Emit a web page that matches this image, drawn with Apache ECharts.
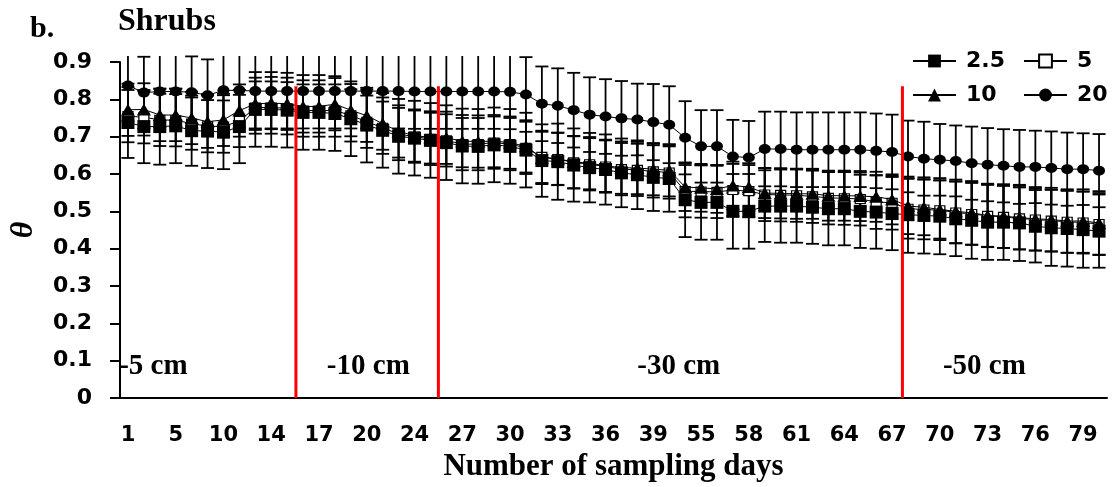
<!DOCTYPE html>
<html>
<head>
<meta charset="utf-8">
<script src="https://cdn.jsdelivr.net/npm/echarts@6/dist/echarts.min.js"></script>
<style>
html,body{margin:0;padding:0;background:#fff;}
#chart{width:1112px;height:487px;}
</style>
</head>
<body>
<div id="chart"></div>
<script>
// ---- data ----
const days = ['1','2','3','5','7','8','10','11','12','14','15','16','17','18','19','20','21','22','24','25','26','27','28','29','30','31','32','33','34','35','36','37','38','39','40','54','55','56','57','58','59','60','61','62','63','64','65','66','67','68','69','70','71','72','73','74','75','76','77','78','79','80'];

const theta25 = [0.738,0.727,0.727,0.729,0.716,0.715,0.712,0.727,0.773,0.773,0.771,0.765,0.765,0.762,0.748,0.731,0.717,0.701,0.696,0.690,0.684,0.675,0.674,0.678,0.674,0.664,0.636,0.633,0.624,0.617,0.612,0.603,0.598,0.591,0.588,0.531,0.524,0.524,0.500,0.500,0.514,0.514,0.514,0.511,0.507,0.507,0.500,0.498,0.494,0.491,0.489,0.487,0.480,0.476,0.471,0.471,0.469,0.460,0.456,0.454,0.451,0.447];
const theta5  = [0.755,0.752,0.745,0.744,0.735,0.728,0.727,0.742,0.778,0.778,0.776,0.770,0.770,0.770,0.757,0.740,0.724,0.707,0.700,0.694,0.690,0.680,0.680,0.684,0.680,0.670,0.646,0.640,0.631,0.626,0.620,0.613,0.611,0.607,0.604,0.554,0.553,0.552,0.557,0.554,0.545,0.544,0.543,0.540,0.536,0.535,0.533,0.525,0.523,0.507,0.505,0.503,0.497,0.493,0.488,0.485,0.481,0.478,0.475,0.472,0.470,0.466];
const theta10 = [0.772,0.773,0.758,0.758,0.750,0.740,0.745,0.770,0.788,0.790,0.788,0.781,0.781,0.787,0.771,0.756,0.735,0.714,0.703,0.698,0.697,0.688,0.687,0.688,0.684,0.674,0.643,0.641,0.632,0.629,0.622,0.617,0.616,0.613,0.610,0.565,0.563,0.560,0.569,0.565,0.549,0.548,0.547,0.547,0.542,0.542,0.541,0.539,0.532,0.514,0.511,0.505,0.500,0.496,0.489,0.487,0.483,0.480,0.478,0.474,0.474,0.469];
const theta20 = [0.837,0.818,0.821,0.821,0.819,0.811,0.824,0.824,0.822,0.822,0.822,0.822,0.822,0.822,0.822,0.822,0.822,0.822,0.821,0.821,0.821,0.821,0.821,0.821,0.820,0.813,0.788,0.783,0.771,0.759,0.754,0.749,0.746,0.739,0.732,0.697,0.674,0.674,0.647,0.644,0.667,0.667,0.665,0.665,0.665,0.665,0.665,0.662,0.659,0.647,0.641,0.638,0.635,0.629,0.625,0.622,0.619,0.619,0.616,0.613,0.613,0.609];

// standard deviations (error bar half-lengths)
const sd25 = [0.095,0.098,0.102,0.100,0.094,0.099,0.099,0.098,0.100,0.100,0.100,0.100,0.100,0.100,0.100,0.100,0.100,0.100,0.100,0.100,0.100,0.100,0.100,0.100,0.100,0.100,0.097,0.102,0.098,0.093,0.094,0.092,0.092,0.090,0.089,0.100,0.100,0.100,0.100,0.100,0.096,0.098,0.098,0.098,0.098,0.098,0.098,0.098,0.098,0.102,0.102,0.102,0.100,0.103,0.101,0.101,0.102,0.097,0.102,0.102,0.102,0.098];
const sd5   = [0.070,0.070,0.070,0.070,0.070,0.070,0.070,0.070,0.070,0.070,0.070,0.070,0.070,0.070,0.070,0.070,0.070,0.070,0.070,0.070,0.070,0.070,0.070,0.070,0.070,0.070,0.070,0.070,0.070,0.070,0.070,0.070,0.070,0.070,0.070,0.070,0.070,0.070,0.070,0.070,0.071,0.071,0.071,0.071,0.071,0.071,0.071,0.072,0.072,0.080,0.080,0.080,0.083,0.083,0.083,0.083,0.083,0.083,0.083,0.083,0.083,0.083];
const sd10  = [0.070,0.070,0.070,0.070,0.070,0.070,0.070,0.070,0.070,0.070,0.070,0.070,0.070,0.070,0.070,0.070,0.070,0.070,0.070,0.070,0.070,0.070,0.070,0.070,0.070,0.070,0.070,0.070,0.070,0.070,0.070,0.070,0.070,0.070,0.070,0.064,0.064,0.064,0.064,0.064,0.067,0.067,0.067,0.067,0.067,0.067,0.067,0.067,0.067,0.075,0.075,0.078,0.085,0.085,0.085,0.085,0.085,0.085,0.085,0.085,0.085,0.085];
const sd20  = [0.096,0.096,0.096,0.096,0.096,0.096,0.100,0.100,0.100,0.100,0.100,0.100,0.100,0.100,0.100,0.100,0.100,0.100,0.100,0.100,0.100,0.100,0.100,0.100,0.100,0.100,0.100,0.100,0.100,0.100,0.100,0.100,0.096,0.102,0.103,0.098,0.097,0.097,0.098,0.098,0.100,0.100,0.100,0.100,0.100,0.100,0.100,0.100,0.100,0.096,0.099,0.096,0.095,0.098,0.098,0.098,0.099,0.097,0.098,0.098,0.096,0.098];

const yTicks = [0,0.1,0.2,0.3,0.4,0.5,0.6,0.7,0.8,0.9];
const depthNames = ['-5 cm','-10 cm','-30 cm','-50 cm'];
const depthLabelAt = [2.1, 15.6, 35.1, 54.3];   // in category-index units
const depthLabelY = 0.085;
const dividers = [11.05, 20.0, 49.15];          // in category-index units
const dividerTop = 0.835;

// ---- chart ----
const chart = echarts.init(document.getElementById('chart'), null, {renderer:'canvas'});

function errData(vals, sds){
  return vals.map((v,i)=>[i, v - sds[i], v + sds[i]]);
}
function renderErr(params, api){
  const x = api.value(0), lo = api.value(1), hi = api.value(2);
  const pLo = api.coord([x, lo]);
  const pHi = api.coord([x, hi]);
  const limit = params.coordSys.y - 6;
  const yHi = Math.max(pHi[1], limit);
  const half = 6.5;
  const st = {stroke:'#000', lineWidth:1.8};
  const ch = [
    {type:'line', shape:{x1:pLo[0], y1:pLo[1], x2:pLo[0], y2:yHi}, style:st},
    {type:'line', shape:{x1:pLo[0]-half, y1:pLo[1], x2:pLo[0]+half, y2:pLo[1]}, style:st}
  ];
  if (pHi[1] >= limit) ch.push({type:'line', shape:{x1:pHi[0]-half, y1:pHi[1], x2:pHi[0]+half, y2:pHi[1]}, style:st});
  return {type:'group', children:ch};
}

const defs = [
  {name:'20',  vals:theta20, sds:sd20, symbol:'circle', size:[12,10], fill:'#000'},
  {name:'5',   vals:theta5,  sds:sd5,  symbol:'rect',   size:[10,9],  fill:'#fff'},
  {name:'10',  vals:theta10, sds:sd10, symbol:'triangle', size:[14,12], fill:'#000'},
  {name:'2.5', vals:theta25, sds:sd25, symbol:'rect',   size:[13,13], fill:'#000'}
];

const series = [];
defs.forEach(d=>{
  series.push({
    type:'custom', name:d.name+'_err', renderItem:renderErr,
    data:errData(d.vals,d.sds), encode:{x:0,y:[1,2]}, z:1, silent:true, clip:false
  });
});
defs.forEach((d,k)=>{
  series.push({
    type:'line', name:d.name, data:d.vals, symbol:d.symbol, symbolSize:d.size,
    showAllSymbol:true, z:3+k,
    lineStyle:{color:'#000', width:1},
    itemStyle:{color:d.fill, borderColor:'#000', borderWidth:d.fill==='#fff'?1.2:0, opacity:1},
    emphasis:{disabled:true}
  });
});
dividers.forEach(v=>{
  series.push({
    type:'line', xAxisIndex:1, data:[[v,0],[v,dividerTop]], symbol:'none', z:10,
    lineStyle:{color:'#ff0000', width:3}, silent:true
  });
});
series.push({
  type:'scatter', xAxisIndex:1, symbolSize:0, z:12, silent:true,
  itemStyle:{opacity:1},
  data: depthNames.map((n,i)=>({name:n, value:[depthLabelAt[i], depthLabelY]})),
  label:{show:true, position:'inside', formatter:p=>p.name, opacity:1,
    fontFamily:'Liberation Serif', fontWeight:'bold', fontSize:29, color:'#000'}
});

const legendText = {fontFamily:'DejaVu Sans', fontWeight:'bold', fontSize:22, color:'#000', lineHeight:22, padding:[0,0,0,5]};

chart.setOption({
  animation:false,
  backgroundColor:'#fff',
  title:[
    {text:'b.', left:30, top:14, padding:0, textStyle:{fontFamily:'Liberation Serif', fontWeight:'bold', fontSize:30, color:'#000'}},
    {text:'Shrubs', left:118, top:6, padding:0, textStyle:{fontFamily:'Liberation Serif', fontWeight:'bold', fontSize:32, color:'#000'}}
  ],
  legend:[
    {data:['2.5','10'], orient:'vertical', left:912, top:50, padding:0, itemWidth:43, itemHeight:16, itemGap:12, textStyle:legendText, selectedMode:false},
    {data:['5','20'], orient:'vertical', left:1023, top:50, padding:0, itemWidth:43, itemHeight:16, itemGap:12, textStyle:legendText, selectedMode:false}
  ],
  grid:{left:115, right:5, top:62, bottom:88, containLabel:false},
  xAxis:[
    {type:'category', data:days, boundaryGap:true,
     axisLine:{lineStyle:{color:'#000', width:2}}, axisTick:{show:false},
     axisLabel:{interval:2, margin:27, fontFamily:'DejaVu Sans', fontWeight:'bold', fontSize:21, color:'#000'},
     name:'Number of sampling days', nameLocation:'middle', nameGap:53,
     nameTextStyle:{fontFamily:'Liberation Serif', fontWeight:'bold', fontSize:31, color:'#000'}},
    {type:'value', min:0, max:days.length, show:false}
  ],
  yAxis:{type:'value', min:yTicks[0], max:yTicks[yTicks.length-1], interval:0.1,
    axisLine:{show:true, lineStyle:{color:'#000', width:2}},
    axisTick:{show:true, length:10, lineStyle:{color:'#000', width:2}},
    splitLine:{show:false},
    axisLabel:{margin:28, fontFamily:'DejaVu Sans', fontWeight:'bold', fontSize:22, color:'#000',
      formatter:v=> v===0 ? '0' : v.toFixed(1)},
    name:'θ', nameLocation:'middle', nameRotate:90, nameGap:80,
    nameTextStyle:{fontFamily:'Liberation Serif', fontStyle:'italic', fontWeight:'bold', fontSize:32, color:'#000'}
  },
  series:series
});
</script>
</body>
</html>
